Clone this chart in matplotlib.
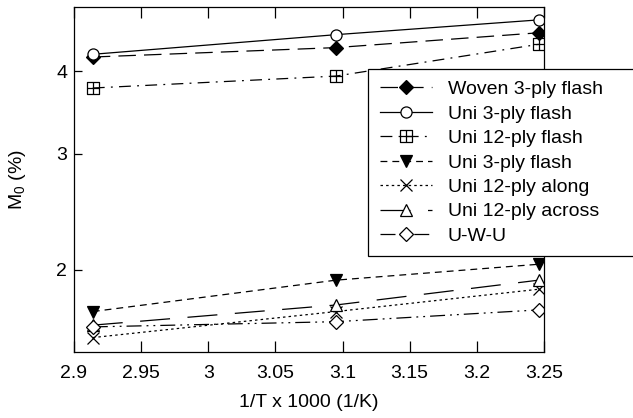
import numpy as np
import matplotlib
matplotlib.use("Agg")
import matplotlib.pyplot as plt
from matplotlib.path import Path
from matplotlib.ticker import FixedLocator, NullLocator, FixedFormatter

plt.rcParams["font.family"] = ["Liberation Sans", "DejaVu Sans"]
plt.rcParams["mathtext.fontset"] = "custom"
plt.rcParams["mathtext.rm"] = "Liberation Sans"

# inverse temperature (1000/T) for 70, 50 and 35 C
inv_T = [2.914, 3.095, 3.246]

# moisture content M0 (%)
woven_3ply_flash = [4.20, 4.34, 4.57]
uni_3ply_flash = [4.24, 4.54, 4.78]
uni_12ply_flash = [3.77, 3.93, 4.39]
uni_3ply_flash_b = [1.73, 1.93, 2.04]
uni_12ply_along = [1.58, 1.73, 1.87]
uni_12ply_across = [1.65, 1.77, 1.93]
uwu = [1.64, 1.67, 1.74]

labels = ["Woven 3-ply flash", "Uni 3-ply flash", "Uni 12-ply flash",
          "Uni 3-ply flash", "Uni 12-ply along", "Uni 12-ply across", "U-W-U"]
y_ticks = [2, 3, 4]
x_ticks = [2.9, 2.95, 3.0, 3.05, 3.1, 3.15, 3.2, 3.25]
x_tick_labels = ["2.9", "2.95", "3", "3.05", "3.1", "3.15", "3.2", "3.25"]

# open square split into four cells
sq_plus = Path(
    [(-1, -1), (1, -1), (1, 1), (-1, 1), (-1, -1),
     (-1, 0), (1, 0), (0, -1), (0, 1)],
    [Path.MOVETO, Path.LINETO, Path.LINETO, Path.LINETO, Path.CLOSEPOLY,
     Path.MOVETO, Path.LINETO, Path.MOVETO, Path.LINETO],
)

series = [
    (woven_3ply_flash, dict(marker="D", ms=7, mfc="black", dashes=(14, 6.5))),
    (uni_3ply_flash, dict(marker="o", ms=8, mfc="white", linestyle="-")),
    (uni_12ply_flash, dict(marker=sq_plus, ms=8, mfc="none", dashes=(9.5, 5, 1.5, 5))),
    (uni_3ply_flash_b, dict(marker="v", ms=8.5, mfc="black", dashes=(5.5, 4))),
    (uni_12ply_along, dict(marker="x", ms=8, mfc="black", dashes=(2, 2.5))),
    (uni_12ply_across, dict(marker="^", ms=8.5, mfc="white", dashes=(24, 14))),
    (uwu, dict(marker="D", ms=7, mfc="white", dashes=(12, 4, 1.5, 4, 1.5, 4))),
]

fig = plt.figure(figsize=(6.33, 4.18), dpi=100)
ax = fig.add_axes([0.1169, 0.1567, 0.7425, 0.8266])

for (vals, style), lab in zip(series, labels):
    ax.plot(inv_T, vals, color="black", lw=0.9, mec="black", mew=0.9,
            label=lab, **style)

ax.set_yscale("log")
ax.set_xlim(2.9, 3.25)
ax.set_ylim(1.5, 5)
ax.yaxis.set_major_locator(FixedLocator(y_ticks))
ax.yaxis.set_major_formatter(FixedFormatter([str(v) for v in y_ticks]))
ax.yaxis.set_minor_locator(NullLocator())
ax.set_xticks(x_ticks)
ax.set_xticklabels(x_tick_labels)

ax.tick_params(axis="x", direction="in", top=True, length=8, width=0.9,
               labelsize=14, pad=9)
ax.tick_params(axis="y", direction="in", length=6, width=0.9, labelsize=14,
               pad=5)
for sp in ax.spines.values():
    sp.set_linewidth(0.9)

ax.set_xlabel("1/T x 1000 (1/K)", fontsize=14, labelpad=9)
ax.set_ylabel("M$_\\mathregular{0}$ (%)", fontsize=14, labelpad=20)

# legend box runs on past the right edge of the figure
leg = ax.legend(loc="upper left", bbox_to_anchor=(0.6255, 0.0, 0.6, 0.8205),
                mode="expand", fontsize=14,
                frameon=True, fancybox=False, framealpha=1, edgecolor="black",
                handlelength=2.7, labelspacing=0.35, borderpad=0.6,
                handletextpad=0.8, borderaxespad=0)
leg.get_frame().set_linewidth(0.9)
leg.set_clip_on(False)

fig.savefig("out.png", dpi=100)
